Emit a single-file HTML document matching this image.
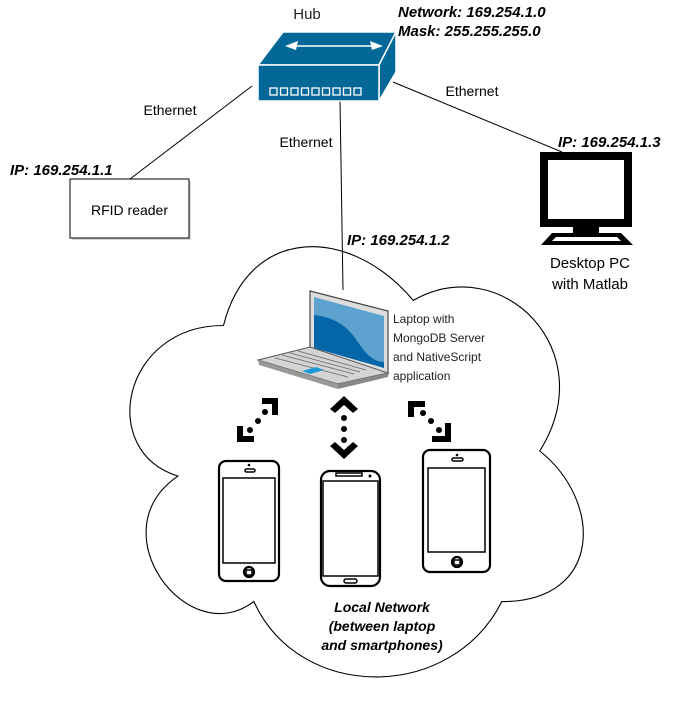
<!DOCTYPE html>
<html><head><meta charset="utf-8"><style>
html,body{margin:0;padding:0;background:#fff;}
svg{display:block;}
text{font-family:"Liberation Sans",Arial,sans-serif;}
.bi{font-weight:bold;font-style:italic;font-size:15px;fill:#000;}
</style></head><body>
<svg width="689" height="704" viewBox="0 0 689 704" xmlns="http://www.w3.org/2000/svg">
<g transform="translate(97,200) scale(506,502)">
<path d="M0.25 0.25 C0.05 0.25 0 0.5 0.16 0.55 C0 0.66 0.18 0.9 0.31 0.8 C0.4 1 0.7 1 0.8 0.8 C1 0.8 1 0.6 0.875 0.5 C1 0.3 0.8 0.1 0.625 0.2 C0.5 0.05 0.3 0.05 0.25 0.25 Z" fill="#fff" stroke="#000" stroke-width="0.0022"/>
</g>
<line x1="130" y1="179" x2="252" y2="86" stroke="#000" stroke-width="1"/>
<line x1="340" y1="100" x2="343" y2="290" stroke="#000" stroke-width="1"/>
<line x1="393" y1="82" x2="562" y2="152" stroke="#000" stroke-width="1"/>
<text x="170" y="115" font-size="14" text-anchor="middle">Ethernet</text>
<text x="306" y="147" font-size="14" text-anchor="middle">Ethernet</text>
<text x="472" y="96" font-size="14" text-anchor="middle">Ethernet</text>
<text x="307" y="19" font-size="15" text-anchor="middle" fill="#222">Hub</text>
<polygon points="258,65 283,32 396,32 379,65" fill="#036897" stroke="#fff" stroke-width="1.5"/>
<polygon points="379,65 396,32 396,72 379,101" fill="#036897" stroke="#fff" stroke-width="1.5"/>
<rect x="258" y="65" width="121" height="36" fill="#036897" stroke="#fff" stroke-width="1.5"/>
<line x1="292" y1="46" x2="376" y2="46" stroke="#fff" stroke-width="1.5"/>
<polygon points="285,46 298,41 296,50" fill="#fff"/>
<polygon points="383,46 370,41 372,50" fill="#fff"/>
<g fill="none" stroke="#fff" stroke-width="1.3">
<rect x="270" y="88" width="7" height="7"/><rect x="280.5" y="88" width="7" height="7"/><rect x="291" y="88" width="7" height="7"/><rect x="301.5" y="88" width="7" height="7"/><rect x="312" y="88" width="7" height="7"/><rect x="322.5" y="88" width="7" height="7"/><rect x="333" y="88" width="7" height="7"/><rect x="343.5" y="88" width="7" height="7"/><rect x="354" y="88" width="7" height="7"/>
</g>
<text x="398" y="17" class="bi">Network: 169.254.1.0</text>
<text x="398" y="36" class="bi">Mask: 255.255.255.0</text>
<rect x="72" y="181" width="119" height="59" fill="#bbb" opacity="0.6"/>
<rect x="70" y="179" width="119" height="59" fill="#fff" stroke="#000" stroke-width="1"/>
<text x="129.5" y="215" font-size="14" text-anchor="middle">RFID reader</text>
<text x="10" y="175" class="bi">IP: 169.254.1.1</text>
<text x="558" y="147" class="bi">IP: 169.254.1.3</text>
<rect x="544" y="156" width="84" height="67" fill="#fff" stroke="#000" stroke-width="8"/>
<rect x="573" y="226" width="26" height="8" fill="#000"/>
<polygon points="552,233 621,233 633,245 541,245" fill="#000"/>
<polygon points="556,237 617,237 621,241 552,241" fill="#fff"/>
<text x="590" y="268" font-size="15" text-anchor="middle">Desktop PC</text>
<text x="590" y="289" font-size="15" text-anchor="middle">with Matlab</text>
<text x="347" y="245" class="bi">IP: 169.254.1.2</text>
<polygon points="310,291 388,311 388,374 310,352" fill="#ddd" stroke="#444" stroke-width="1.2"/>
<polygon points="314,297 384,316 384,368 314,348" fill="#5ea3cf"/>
<path d="M314,315 C340,318 350,330 360,345 C368,357 376,362 384,362 L384,368 L314,348 Z" fill="#0466a8"/>
<polygon points="258,360 310,347 388,373 338,384" fill="#d4d4d4" stroke="#555" stroke-width="1"/>
<polygon points="258,360 338,384 338,389 259,365" fill="#999"/>
<polygon points="338,384 388,373 388,377 338,389" fill="#888"/>
<g stroke="#666" stroke-width="0.8">
<line x1="275" y1="358" x2="348" y2="377"/><line x1="282" y1="355" x2="354" y2="374"/><line x1="290" y1="353" x2="360" y2="372"/><line x1="298" y1="351" x2="366" y2="370"/>
</g>
<polygon points="302,371 316,367 324,370 310,374" fill="#1c9ad6"/>
<text font-size="12" fill="#222"><tspan x="393" y="323">Laptop with</tspan><tspan x="393" y="342">MongoDB Server</tspan><tspan x="393" y="361">and NativeScript</tspan><tspan x="393" y="380">application</tspan></text>
<g fill="#000">
<circle cx="250" cy="430" r="3"/><circle cx="258" cy="421" r="3"/><circle cx="265" cy="412" r="3"/>
<polygon points="237,426 243,426 243,436 254,436 254,442 237,442"/>
<polygon points="278,398 278,415 272,415 272,404 262,404 262,398"/>
<circle cx="344" cy="418" r="3"/><circle cx="344" cy="429" r="3"/><circle cx="344" cy="440" r="3"/>
<polygon points="330,409 344,396 358,409 353,413 344,405 335,413"/>
<polygon points="330,446 344,459 358,446 353,442 344,450 335,442"/>
<circle cx="423" cy="413" r="3"/><circle cx="431" cy="421" r="3"/><circle cx="439" cy="430" r="3"/>
<polygon points="408,401 425,401 425,407 414,407 414,417 408,417"/>
<polygon points="451,423 451,442 432,442 432,436 445,436 445,423"/>
</g>
<g fill="#fff" stroke="#000" stroke-width="2.2">
<rect x="219" y="461" width="60" height="120" rx="7"/>
<rect x="223" y="478" width="52" height="85" stroke-width="1.5"/>
<circle cx="249" cy="572" r="5"/>
<rect x="321" y="471" width="59" height="115" rx="9"/>
<rect x="323" y="481" width="55" height="95" stroke-width="1.5"/>
<rect x="423" y="450" width="67" height="122" rx="7"/>
<rect x="428" y="468" width="57" height="84" stroke-width="1.5"/>
<circle cx="457" cy="562" r="5"/>
</g>
<g fill="none" stroke="#000" stroke-width="1.5">
<rect x="245" y="469" width="10" height="3" rx="1.5"/>
<rect x="246" y="570" width="6" height="5"/>
<rect x="344" y="579" width="13" height="4" rx="2"/>
<rect x="336" y="473" width="26" height="3"/>
<rect x="452" y="458" width="11" height="3" rx="1.5"/>
<rect x="454" y="560" width="6" height="5"/>
</g>
<circle cx="249" cy="465" r="1.3"/><circle cx="457" cy="455" r="1.3"/><circle cx="370" cy="476" r="1.5"/>
<text x="382" y="612" class="bi" text-anchor="middle" style="font-size:14px">Local Network</text>
<text x="382" y="631" class="bi" text-anchor="middle" style="font-size:14px">(between laptop</text>
<text x="382" y="650" class="bi" text-anchor="middle" style="font-size:14px">and smartphones)</text>
</svg>
</body></html>
